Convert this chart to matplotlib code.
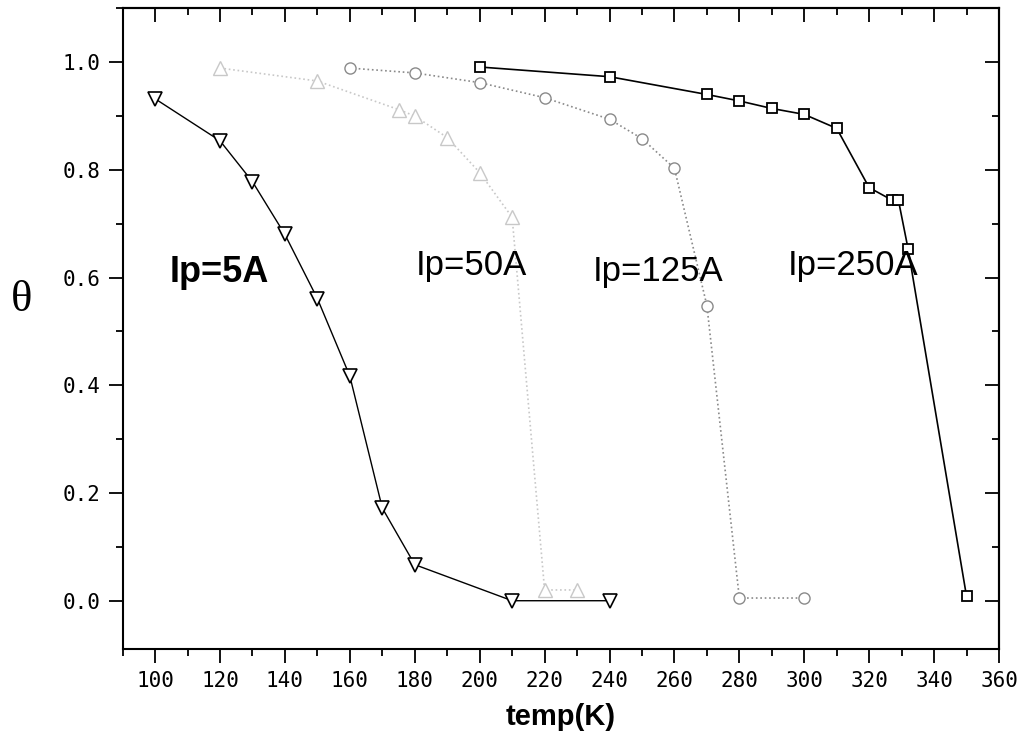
import matplotlib
matplotlib.use("Agg")
import matplotlib.pyplot as plt
from matplotlib.ticker import MultipleLocator

# coverage vs temperature for four pulse currents
t_5 = [100, 120, 130, 140, 150, 160, 170, 180, 210, 240]
th_5 = [0.932, 0.854, 0.778, 0.680, 0.561, 0.417, 0.172, 0.067, 0.0, 0.0]

t_50 = [120, 150, 175, 180, 190, 200, 210, 220, 230]
th_50 = [0.989, 0.965, 0.912, 0.900, 0.860, 0.795, 0.712, 0.020, 0.020]

t_125 = [160, 180, 200, 220, 240, 250, 260, 270, 280, 300]
th_125 = [0.989, 0.980, 0.962, 0.934, 0.894, 0.858, 0.803, 0.548, 0.005, 0.005]

t_250 = [200, 240, 270, 280, 290, 300, 310, 320, 327, 329, 332, 350]
th_250 = [0.991, 0.973, 0.940, 0.928, 0.914, 0.903, 0.877, 0.767, 0.744, 0.744, 0.653, 0.008]

labels = ["Ip=5A", "Ip=50A", "Ip=125A", "Ip=250A"]

fig = plt.figure(figsize=(10.22, 7.54), dpi=100)
ax = fig.add_axes([0.120, 0.139, 0.8575, 0.850])

ax.plot(t_5, th_5, "-", color="black", lw=1.0, marker="v", ms=10,
        mfc="white", mec="black", mew=1.2)
ax.plot(t_50, th_50, ":", color="#c8c8c8", lw=1.2, marker="^", ms=10,
        mfc="white", mec="#c8c8c8", mew=1.0)
ax.plot(t_125, th_125, ":", color="#8a8a8a", lw=1.2, marker="o", ms=8,
        mfc="white", mec="#8a8a8a", mew=1.0)
ax.plot(t_250, th_250, "-", color="black", lw=1.2, marker="s", ms=7,
        mfc="white", mec="black", mew=1.3)

ax.set_xlim(90, 360)
ax.set_ylim(-0.09, 1.1)

ax.xaxis.set_major_locator(MultipleLocator(20))
ax.xaxis.set_minor_locator(MultipleLocator(10))
ax.yaxis.set_major_locator(MultipleLocator(0.2))
ax.yaxis.set_minor_locator(MultipleLocator(0.1))
ax.set_xticks(range(100, 361, 20))
ax.set_yticks([0.0, 0.2, 0.4, 0.6, 0.8, 1.0])
ax.set_yticklabels(["0.0", "0.2", "0.4", "0.6", "0.8", "1.0"])

ax.tick_params(which="major", direction="out", length=10, width=1.3,
               labelsize=15, pad=6)
ax.tick_params(which="minor", direction="out", length=5, width=1.3)
for lab in ax.get_xticklabels() + ax.get_yticklabels():
    lab.set_family("DejaVu Sans Mono")

# top and right axes: ticks pointing inward, no labels
top = ax.secondary_xaxis("top")
top.xaxis.set_major_locator(MultipleLocator(20))
top.xaxis.set_minor_locator(MultipleLocator(10))
top.tick_params(which="major", direction="in", length=10, width=1.3, labeltop=False)
top.tick_params(which="minor", direction="in", length=5, width=1.3)
right = ax.secondary_yaxis("right")
right.yaxis.set_major_locator(MultipleLocator(0.2))
right.yaxis.set_minor_locator(MultipleLocator(0.1))
right.tick_params(which="major", direction="in", length=10, width=1.3, labelright=False)
right.tick_params(which="minor", direction="in", length=5, width=1.3)

for sp in list(ax.spines.values()) + [top.spines["top"], right.spines["right"]]:
    sp.set_linewidth(1.5)

ax.text(104.5, 0.609, labels[0], fontsize=26, fontweight="bold",
        family="Liberation Sans", va="center", ha="left")
ax.text(180.4, 0.622, labels[1], fontsize=25, family="Liberation Sans",
        va="center", ha="left")
ax.text(234.8, 0.612, labels[2], fontsize=25, family="Liberation Sans",
        va="center", ha="left")
ax.text(294.8, 0.622, labels[3], fontsize=25, family="Liberation Sans",
        va="center", ha="left")

ax.set_xlabel("temp(K)", fontsize=21, fontweight="bold",
              family="Liberation Sans", labelpad=8)
ax.text(-0.115, 0.545, "θ", transform=ax.transAxes, fontsize=32,
        family="Liberation Serif", ha="center", va="center")

fig.savefig("out.png", dpi=100)
